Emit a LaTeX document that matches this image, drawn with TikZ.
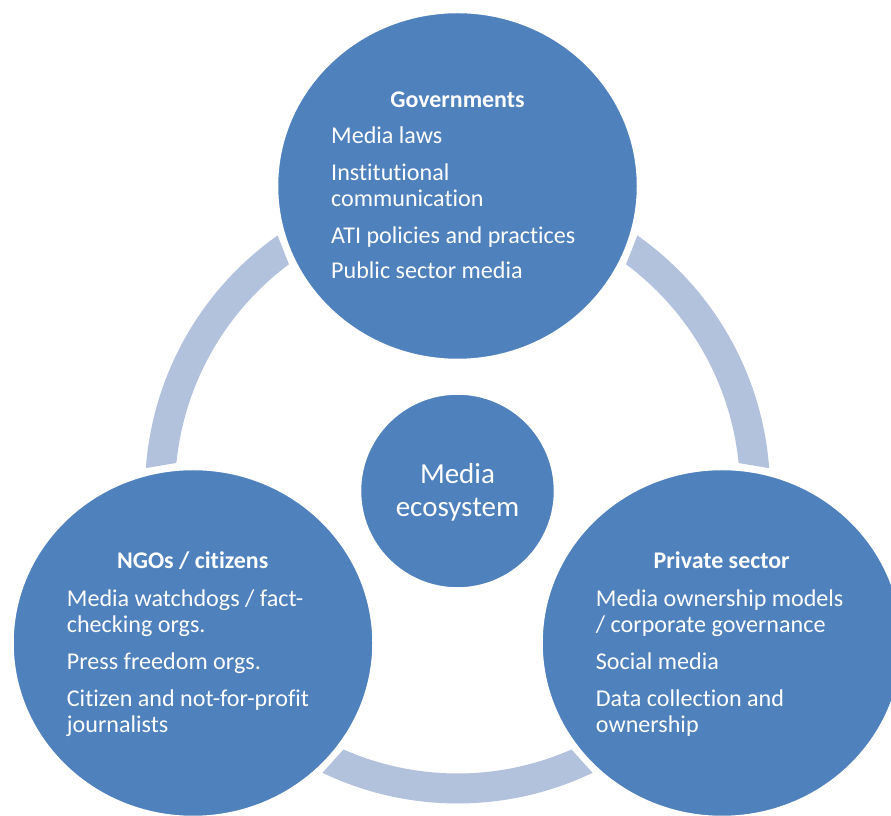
\documentclass[tikz,border=0pt]{standalone}
\usepackage{fontspec}
\setmainfont[Ligatures={NoCommon}]{Carlito}
\usetikzlibrary{shapes.geometric,calc}
\definecolor{circblue}{HTML}{4F81BD}
\definecolor{ringblue}{HTML}{B2C2DD}
\tikzset{
  bigc/.style={ellipse, fill=circblue, draw=white, line width=2.5pt, inner sep=0pt,
    minimum width=361pt, minimum height=348pt},
  midc/.style={circle, fill=circblue, draw=white, line width=2.5pt, inner sep=0pt,
    minimum size=195pt},
  ringseg/.style={fill=ringblue},
  head/.style={anchor=base, text=white, inner sep=0pt, font=\bfseries\fontsize{23.9}{26}\selectfont},
  item/.style={anchor=base west, text=white, inner sep=0pt, font=\fontsize{24.1}{26}\selectfont},
  core/.style={anchor=base, text=white, inner sep=0pt, font=\fontsize{29}{32}\selectfont}
}
\begin{document}
\begin{tikzpicture}[x=1pt,y=1pt]
\useasboundingbox (0,0) rectangle (891,816);
\clip (0,0) rectangle (891,816);
\coordinate (C) at (457.5,325);
% ring segments
\fill[ringseg] ($(C)+(125.15:312.5)$) arc[start angle=125.15,end angle=175.8,radius=312.5]
  -- ($(C)+(174.3:282.5)$) arc[start angle=174.3,end angle=126.63,radius=282.5] -- cycle;
\fill[ringseg] ($(C)+(54.85:312.5)$) arc[start angle=54.85,end angle=4.2,radius=312.5]
  -- ($(C)+(5.68:282.5)$) arc[start angle=5.68,end angle=53.37,radius=282.5] -- cycle;
\fill[ringseg] ($(C)+(244.4:312.5)$) arc[start angle=244.4,end angle=295.6,radius=312.5]
  -- ($(C)+(293.8:282.5)$) arc[start angle=293.8,end angle=246.2,radius=282.5] -- cycle;
% circles
\node[bigc] (gov) at (457.5,630) {};
\node[bigc] (ngo) at (193,173) {};
\node[bigc] (priv) at (722,173) {};
\node[midc] (eco) at (457.5,325) {};
% Governments
\node[head] (govh) at (457.5,708) {Governments};
\node[item] (gov1) at (331,672.5) {Media laws};
\node[item] (gov2a) at (331,635.5) {Institutional};
\node[item] (gov2b) at (331,609.5) {communication};
\node[item] (gov3) at (331,572.8) {ATI policies and practices};
\node[item] (gov4) at (331,537.5) {Public sector media};
% NGOs
\node[head] (ngoh) at (192.7,247) {NGOs / citizens};
\node[item] (ngo1a) at (66.7,209.8) {Media watchdogs / fact-};
\node[item] (ngo1b) at (66.7,183.2) {checking orgs.};
\node[item] (ngo2) at (66.7,146.5) {Press freedom orgs.};
\node[item] (ngo3a) at (66.7,109.8) {Citizen and not-for-profit};
\node[item] (ngo3b) at (66.7,83.8) {journalists};
% Private sector
\node[head] (privh) at (721.7,247) {Private sector};
\node[item] (priv1a) at (595.7,209.8) {Media ownership models};
\node[item] (priv1b) at (595.7,183.2) {/ corporate governance};
\node[item] (priv2) at (595.7,146.5) {Social media};
\node[item] (priv3a) at (595.7,109.8) {Data collection and};
\node[item] (priv3b) at (595.7,83.8) {ownership};
% center
\node[core] (eco1) at (457.5,332.2) {Media};
\node[core] (eco2) at (457.5,299.5) {ecosystem};
\end{tikzpicture}
\end{document}
